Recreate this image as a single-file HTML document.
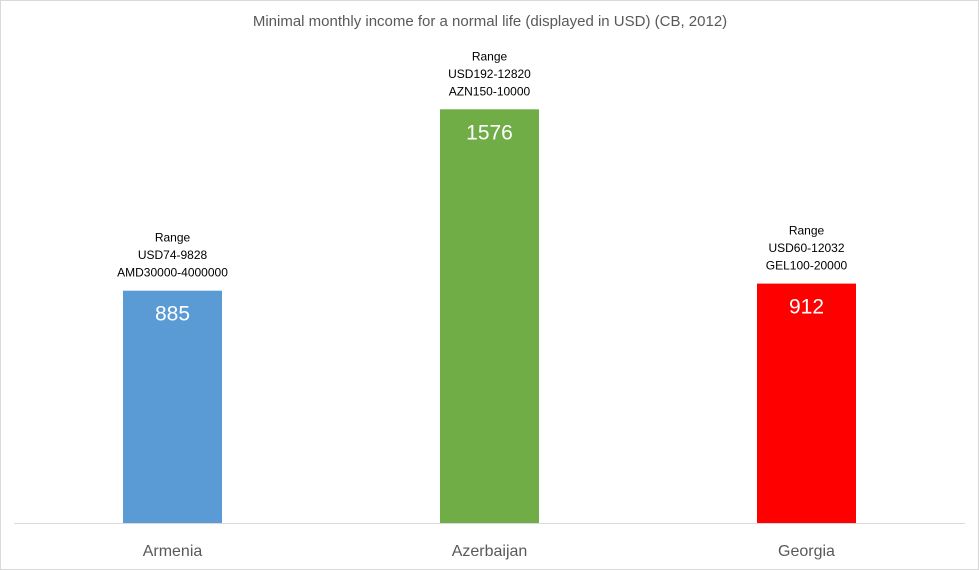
<!DOCTYPE html>
<html><head><meta charset="utf-8"><style>
body{margin:0;background:#fff;}
svg{display:block;font-family:"Liberation Sans",Arial,sans-serif;}
</style></head><body>
<svg id="chart" width="979" height="570" viewBox="0 0 979 570">
<rect x="0.5" y="0.5" width="978" height="569" fill="#fff" stroke="#d9d9d9"/>
<text x="490" y="26" text-anchor="middle" font-size="15" fill="#595959">Minimal monthly income for a normal life (displayed in USD) (CB, 2012)</text>
<g id="bars"></g>
<line x1="14" y1="523.5" x2="965" y2="523.5" stroke="#d9d9d9"/>
</svg>
<script>
const categories = ["Armenia", "Azerbaijan", "Georgia"];
const values = [885, 1576, 912];
const colors = ["#5b9bd5", "#70ad47", "#ff0000"];
const rangeLabels = [
  ["Range", "USD74-9828", "AMD30000-4000000"],
  ["Range", "USD192-12820", "AZN150-10000"],
  ["Range", "USD60-12032", "GEL100-20000"]
];
const baseY = 523, scale = 0.2625, x0 = 14, step = 317, barW = 99;
const yPos = v => baseY - v * scale;
const xCenter = i => x0 + step * (i + 0.5);
const ns = "http://www.w3.org/2000/svg";
const g = document.getElementById("bars");
function mk(tag, attrs, text) {
  const e = document.createElementNS(ns, tag);
  for (const k in attrs) e.setAttribute(k, attrs[k]);
  if (text !== undefined) e.textContent = text;
  g.appendChild(e);
  return e;
}
categories.forEach((c, i) => {
  const cx = xCenter(i), top = yPos(values[i]);
  const r = mk("rect", {x: cx - barW / 2, y: top, width: barW, height: baseY - top, fill: colors[i]});
  
  
  const v = mk("text", {x: cx, y: top + 30, "text-anchor": "middle", "font-size": 21, fill: "#fff"}, values[i]);
  
  
  rangeLabels[i].forEach((l, j) => {
    const t = mk("text", {x: cx, y: top - 49 + j * 17.5, "text-anchor": "middle", "font-size": 12, fill: "#000"}, l);
    
    
  });
  const cl = mk("text", {x: cx, y: 556, "text-anchor": "middle", "font-size": 16, fill: "#595959"}, c);
  
  
});
</script>
</body></html>
